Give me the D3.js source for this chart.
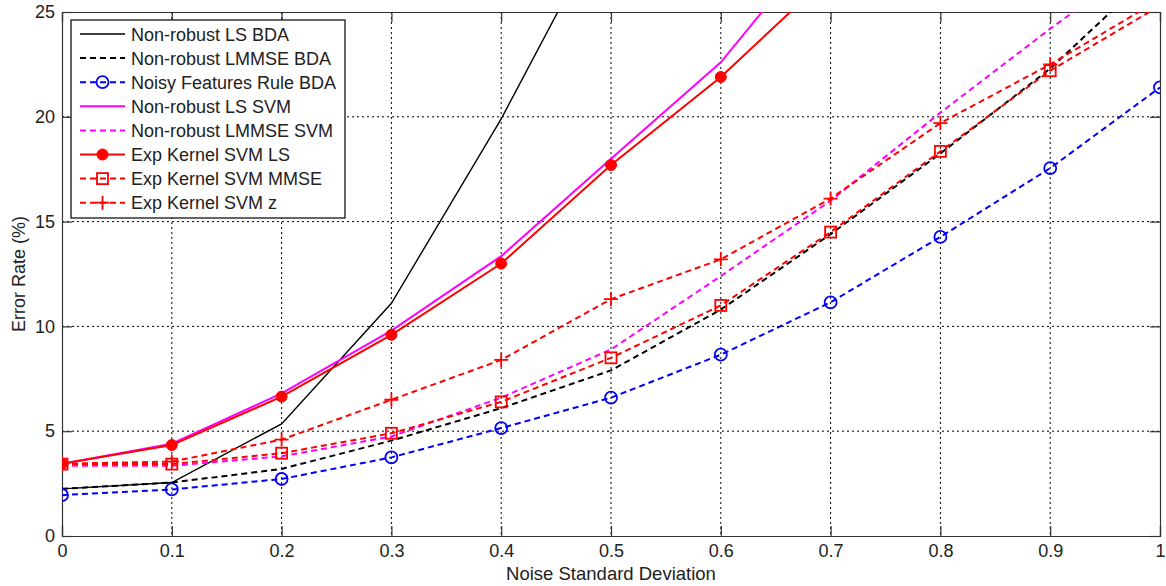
<!DOCTYPE html>
<html>
<head>
<meta charset="utf-8">
<script src="https://cdn.jsdelivr.net/npm/d3@7"></script>
<style>
  body { margin: 0; background: #fff; }
  text { font-family: "Liberation Sans", Arial, sans-serif; fill: #222; }
</style>
</head>
<body>
<div id="chart"></div>
<script>
// noise standard deviation values
const noise = [0, 0.1, 0.2, 0.3, 0.4, 0.5, 0.6, 0.7, 0.8, 0.9, 1.0];

// error rates (%); values above 25 are clipped
const lsBda      = [2.25, 2.55, 5.35, 11.1, 19.9, 29.8];
const lmmseBda   = [2.25, 2.55, 3.2, 4.55, 6.1, 7.9, 10.8, 14.4, 18.25, 22.3, 27.2];
const noisyBda   = [1.95, 2.22, 2.72, 3.75, 5.15, 6.6, 8.65, 11.15, 14.27, 17.55, 21.4];
const lsSvm      = [3.45, 4.4, 6.8, 9.8, 13.35, 18.0, 22.6, 29.0];
const lmmseSvm   = [3.35, 3.35, 3.8, 4.75, 6.6, 8.9, 12.4, 16.0, 20.2, 24.2, 28.0];
const expLs      = [3.45, 4.34, 6.65, 9.6, 13.0, 17.7, 21.9, 26.8];
const expMmse    = [3.43, 3.43, 3.95, 4.9, 6.4, 8.5, 11.0, 14.5, 18.35, 22.2, 25.3];
const expZ       = [3.45, 3.55, 4.6, 6.5, 8.4, 11.3, 13.2, 16.1, 19.7, 22.5, 25.6];

const seriesNames = [
  "Non-robust LS BDA", "Non-robust LMMSE BDA", "Noisy Features Rule BDA",
  "Non-robust LS SVM", "Non-robust LMMSE SVM", "Exp Kernel SVM LS",
  "Exp Kernel SVM MMSE", "Exp Kernel SVM z"
];
const seriesValues = [lsBda, lmmseBda, noisyBda, lsSvm, lmmseSvm, expLs, expMmse, expZ];
const seriesColors = ["#000", "#000", "#0000ff", "#ff00ff", "#ff00ff", "#ff0000", "#ff0000", "#ff0000"];
const seriesDash   = [null, "6,4", "6,4", null, "6,4", null, "6,4", "6,4"];
const seriesMarker = [null, null, "circle", null, null, "dot", "square", "plus"];

const xTicks = [0, 0.1, 0.2, 0.3, 0.4, 0.5, 0.6, 0.7, 0.8, 0.9, 1];
const yTicks = [0, 5, 10, 15, 20, 25];

const W = 1166, H = 586;
const margin = { top: 12, right: 6, bottom: 50, left: 62 };
const width  = W - margin.left - margin.right;
const height = H - margin.top - margin.bottom;

const svg = d3.select("#chart")
  .append("svg")
  .attr("width", W)
  .attr("height", H);

const g = svg.append("g")
  .attr("transform", `translate(${margin.left},${margin.top})`);

const x = d3.scaleLinear().domain([0, 1]).range([0, width]);
const y = d3.scaleLinear().domain([0, 25]).range([height, 0]);

g.append("defs").append("clipPath").attr("id", "plot")
  .append("rect").attr("width", width).attr("height", height);

// grid
g.selectAll(".vgrid")
  .data(xTicks.slice(1, -1))
  .join("line")
  .attr("x1", d => x(d)).attr("x2", d => x(d))
  .attr("y1", 0).attr("y2", height)
  .attr("stroke", "#000").attr("stroke-width", 1)
  .attr("stroke-dasharray", "2,3");

g.selectAll(".hgrid")
  .data(yTicks.slice(1, -1))
  .join("line")
  .attr("y1", d => y(d)).attr("y2", d => y(d))
  .attr("x1", 0).attr("x2", width)
  .attr("stroke", "#000").attr("stroke-width", 1)
  .attr("stroke-dasharray", "2,3");

// axes (MATLAB style: ticks inside, box around)
const xAxis = g.append("g")
  .attr("transform", `translate(0,${height})`)
  .call(d3.axisBottom(x).tickValues(xTicks).tickSize(-10).tickPadding(8).tickFormat(d3.format("")));
const xTop = g.append("g")
  .call(d3.axisTop(x).tickValues(xTicks).tickSize(-10).tickFormat(""));
const yAxis = g.append("g")
  .call(d3.axisLeft(y).tickValues(yTicks).tickSize(-10).tickPadding(7));
const yRight = g.append("g")
  .attr("transform", `translate(${width},0)`)
  .call(d3.axisRight(y).tickValues(yTicks).tickSize(-10).tickFormat(""));

[xAxis, xTop, yAxis, yRight].forEach(a => {
  a.select(".domain").attr("stroke", "#333").attr("stroke-width", 1.2);
  a.selectAll(".tick line").attr("stroke", "#333").attr("stroke-width", 1.2);
  a.selectAll(".tick text").style("font-size", "18px").attr("fill", "#222")
    .style("font-family", "'Liberation Sans', Arial, sans-serif");
});

// lines and markers
const line = d3.line()
  .x((d, i) => x(noise[i]))
  .y(d => y(d));

const plot = g.append("g").attr("clip-path", "url(#plot)");

function drawMarker(sel, type, color, cx, cy) {
  if (type === "circle") {
    sel.append("circle").attr("cx", cx).attr("cy", cy).attr("r", 6)
      .attr("fill", "none").attr("stroke", color).attr("stroke-width", 1.8);
  } else if (type === "dot") {
    sel.append("circle").attr("cx", cx).attr("cy", cy).attr("r", 5.5)
      .attr("fill", color).attr("stroke", color).attr("stroke-width", 1);
  } else if (type === "square") {
    sel.append("rect").attr("x", cx - 5.5).attr("y", cy - 5.5)
      .attr("width", 11).attr("height", 11)
      .attr("fill", "none").attr("stroke", color).attr("stroke-width", 1.8);
  } else if (type === "plus") {
    sel.append("path")
      .attr("d", `M${cx - 7},${cy}H${cx + 7}M${cx},${cy - 7}V${cy + 7}`)
      .attr("stroke", color).attr("stroke-width", 1.8);
  }
}

seriesValues.forEach((vals, s) => {
  plot.append("path")
    .datum(vals)
    .attr("d", line)
    .attr("fill", "none")
    .attr("stroke", seriesColors[s])
    .attr("stroke-width", s === 0 ? 1.4 : 2)
    .attr("stroke-dasharray", seriesDash[s]);
  if (seriesMarker[s]) {
    vals.forEach((v, i) => {
      if (v <= 25) drawMarker(plot, seriesMarker[s], seriesColors[s], x(noise[i]), y(v));
    });
  }
});

// axis labels
svg.append("text")
  .attr("x", margin.left + width / 2)
  .attr("y", 580)
  .attr("text-anchor", "middle")
  .style("font-size", "18.5px")
  .text("Noise Standard Deviation");

svg.append("text")
  .attr("transform", `translate(25,${margin.top + height / 2}) rotate(-90)`)
  .attr("text-anchor", "middle")
  .style("font-size", "18px")
  .text("Error Rate (%)");

// legend
const lg = svg.append("g").attr("transform", "translate(71,20)");
lg.append("rect")
  .attr("width", 274).attr("height", 198)
  .attr("fill", "#fff").attr("stroke", "#000").attr("stroke-width", 1.2);

seriesNames.forEach((name, s) => {
  const ly = 14 + s * 24.1;
  lg.append("line")
    .attr("x1", 9).attr("x2", 54).attr("y1", ly).attr("y2", ly)
    .attr("stroke", seriesColors[s]).attr("stroke-width", s === 0 ? 1.6 : 2)
    .attr("stroke-dasharray", seriesDash[s]);
  if (seriesMarker[s]) drawMarker(lg, seriesMarker[s], seriesColors[s], 31.5, ly);
  lg.append("text")
    .attr("x", 60).attr("y", ly + 6.5)
    .style("font-size", "18px")
    .text(name);
});
</script>
</body>
</html>
